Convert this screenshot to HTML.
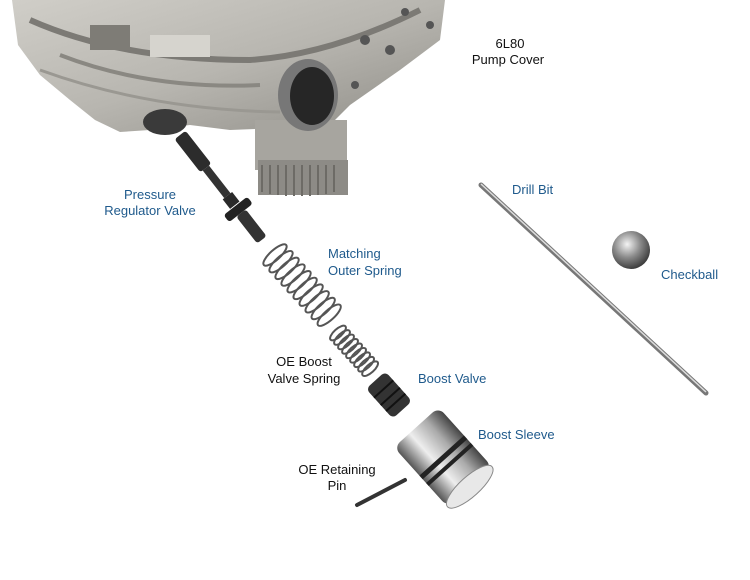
<!DOCTYPE html>
<html><head><meta charset="utf-8"><style>
html,body{margin:0;padding:0;background:#fff;}
svg{display:block}
text{font-family:"Liberation Sans",Arial,sans-serif;font-size:13px}
.b{fill:#1f5a8c}.k{fill:#111}
</style></head><body>
<svg width="750" height="580" viewBox="0 0 750 580" xmlns="http://www.w3.org/2000/svg">
<defs>
<linearGradient id="al" x1="0" y1="0" x2="1" y2="1">
<stop offset="0" stop-color="#d0cec8"/><stop offset="0.5" stop-color="#b8b6b0"/><stop offset="1" stop-color="#8e8c86"/></linearGradient>
<linearGradient id="met" x1="0" y1="0" x2="1" y2="0">
<stop offset="0" stop-color="#555"/><stop offset="0.35" stop-color="#eee"/><stop offset="0.7" stop-color="#aaa"/><stop offset="1" stop-color="#444"/></linearGradient>
<radialGradient id="ball" cx="0.4" cy="0.35" r="0.7">
<stop offset="0" stop-color="#f4f4f4"/><stop offset="0.5" stop-color="#8a8a8a"/><stop offset="1" stop-color="#333"/></radialGradient>
</defs>
<!-- pump cover -->
<path d="M12,0 L445,0 L440,40 L400,70 L350,105 L330,125 L280,128 L230,130 L190,125 L150,130 L120,132 L95,120 L70,100 L40,75 L18,45 Z" fill="url(#al)"/>
<path d="M30,20 Q120,60 250,60 Q330,55 420,10" stroke="#7c7a75" stroke-width="6" fill="none"/>
<path d="M60,55 Q150,90 260,85" stroke="#8a8882" stroke-width="4" fill="none"/>
<path d="M40,70 Q150,110 280,112" stroke="#9a9892" stroke-width="3" fill="none"/>
<rect x="90" y="25" width="40" height="25" fill="#7e7c76"/>
<rect x="150" y="35" width="60" height="22" fill="#d6d4ce"/>
<circle cx="365" cy="40" r="5" fill="#555"/><circle cx="390" cy="50" r="5" fill="#555"/><circle cx="405" cy="12" r="4" fill="#555"/><circle cx="430" cy="25" r="4" fill="#555"/><circle cx="355" cy="85" r="4" fill="#555"/>
<ellipse cx="165" cy="122" rx="22" ry="13" fill="#3a3a3a"/>
<!-- hub -->
<rect x="255" y="120" width="92" height="50" fill="#a7a59f"/>
<rect x="258" y="160" width="90" height="35" fill="#8d8b86"/>
<path d="M262,165 L262,192 M270,165 L270,194 M278,165 L278,195 M286,165 L286,196 M294,165 L294,196 M302,165 L302,196 M310,165 L310,196 M318,165 L318,195 M326,165 L326,194 M334,165 L334,192" stroke="#6d6b66" stroke-width="2"/>
<ellipse cx="308" cy="95" rx="30" ry="36" fill="#777"/>
<ellipse cx="312" cy="96" rx="22" ry="29" fill="#262626"/>
<!-- pressure regulator valve -->
<g transform="translate(180,135) rotate(-38)">
<rect x="-7" y="0" width="14" height="42" rx="3" fill="#2c2c2c"/>
<rect x="-4" y="42" width="8" height="35" fill="#333"/>
<rect x="-6" y="77" width="12" height="12" fill="#2a2a2a"/>
<rect x="-15" y="90" width="30" height="9" rx="3" fill="#222"/>
<rect x="-6" y="99" width="12" height="34" rx="3" fill="#333"/>
</g>
<!-- outer spring -->
<g transform="translate(275,255) rotate(-42)" stroke="#555" stroke-width="2" fill="none">
<ellipse cx="0" cy="0" rx="15" ry="5"/><ellipse cx="0" cy="9" rx="15" ry="5"/><ellipse cx="0" cy="18" rx="15" ry="5"/><ellipse cx="0" cy="27" rx="15" ry="5"/><ellipse cx="0" cy="36" rx="15" ry="5"/><ellipse cx="0" cy="45" rx="15" ry="5"/><ellipse cx="0" cy="54" rx="15" ry="5"/><ellipse cx="0" cy="63" rx="15" ry="5"/><ellipse cx="0" cy="72" rx="15" ry="5"/><ellipse cx="0" cy="81" rx="15" ry="5"/>
</g>
<!-- inner spring -->
<g transform="translate(338,333) rotate(-42)" stroke="#555" stroke-width="2" fill="none">
<ellipse cx="0" cy="0" rx="10" ry="4"/><ellipse cx="0" cy="6" rx="10" ry="4"/><ellipse cx="0" cy="12" rx="10" ry="4"/><ellipse cx="0" cy="18" rx="10" ry="4"/><ellipse cx="0" cy="24" rx="10" ry="4"/><ellipse cx="0" cy="30" rx="10" ry="4"/><ellipse cx="0" cy="36" rx="10" ry="4"/><ellipse cx="0" cy="42" rx="10" ry="4"/><ellipse cx="0" cy="48" rx="10" ry="4"/>
</g>
<!-- boost valve -->
<g transform="translate(389,395) rotate(-42)">
<rect x="-13" y="-20" width="26" height="40" rx="5" fill="#333"/>
<path d="M-13,-8 H13 M-13,2 H13 M-13,10 H13" stroke="#111" stroke-width="2"/>
</g>
<!-- boost sleeve -->
<g transform="translate(443,457) rotate(-42)">
<rect x="-30" y="-40" width="60" height="80" rx="8" fill="url(#met)"/>
<rect x="-30" y="-2" width="60" height="5" fill="#222"/>
<rect x="-30" y="8" width="60" height="4" fill="#222"/>
<ellipse cx="0" cy="40" rx="30" ry="10" fill="#e8e8e8" stroke="#888"/>
</g>
<!-- retaining pin -->
<line x1="357" y1="505" x2="405" y2="480" stroke="#333" stroke-width="4" stroke-linecap="round"/>
<!-- drill bit -->
<line x1="481" y1="185" x2="706" y2="393" stroke="#777" stroke-width="5" stroke-linecap="round"/>
<line x1="481" y1="184" x2="706" y2="392" stroke="#ddd" stroke-width="1.5"/>
<!-- checkball -->
<circle cx="631" cy="250" r="19" fill="url(#ball)"/>
<!-- labels -->
<text x="510" y="48" class="k" text-anchor="middle">6L80</text>
<text x="508" y="64" class="k" text-anchor="middle">Pump Cover</text>
<text x="150" y="199" class="b" text-anchor="middle">Pressure</text>
<text x="150" y="215" class="b" text-anchor="middle">Regulator Valve</text>
<text x="328" y="258" class="b">Matching</text>
<text x="328" y="275" class="b">Outer Spring</text>
<text x="512" y="194" class="b">Drill Bit</text>
<text x="661" y="279" class="b">Checkball</text>
<text x="304" y="366" class="k" text-anchor="middle">OE Boost</text>
<text x="304" y="383" class="k" text-anchor="middle">Valve Spring</text>
<text x="418" y="383" class="b">Boost Valve</text>
<text x="478" y="439" class="b">Boost Sleeve</text>
<text x="337" y="474" class="k" text-anchor="middle">OE Retaining</text>
<text x="337" y="490" class="k" text-anchor="middle">Pin</text>
</svg>
</body></html>
